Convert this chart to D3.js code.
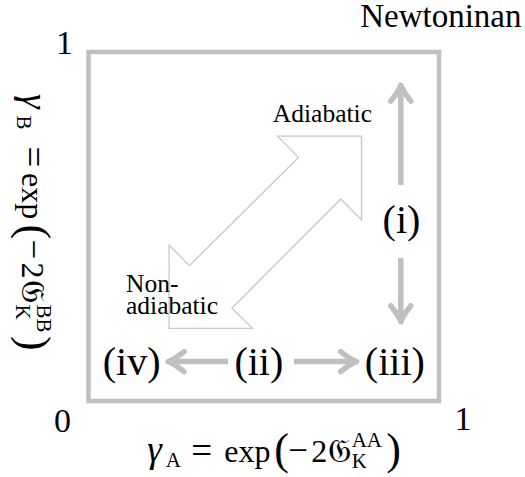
<!DOCTYPE html>
<html><head><meta charset="utf-8">
<script src="https://cdn.jsdelivr.net/npm/d3@7"></script>
<style>html,body{margin:0;padding:0;background:#fff}svg{display:block}</style>
</head><body><svg id="c" width="525" height="477"></svg>
<script>
// ---- data (unit square coordinates) ----
const axisDomain = [0, 1];
const tickLabels = ["0", "1"];
const regimeLabels = ["(i)", "(ii)", "(iii)", "(iv)"];
const regimeX = [0.893, 0.486, 0.874, 0.123];
const regimeY = [0.519, 0.113, 0.113, 0.113];
const arrowFromX = [0.891, 0.891, 0.398, 0.586];
const arrowFromY = [0.619, 0.410, 0.113, 0.113];
const arrowToX   = [0.891, 0.891, 0.227, 0.765];
const arrowToY   = [0.905, 0.227, 0.113, 0.113];
const doubleArrowX = [0.539, 0.779, 0.779, 0.720, 0.409, 0.468, 0.230, 0.230, 0.288, 0.599];
const doubleArrowY = [0.759, 0.759, 0.519, 0.579, 0.266, 0.208, 0.208, 0.447, 0.388, 0.698];
const cornerLabel = "Newtoninan";
const adiabaticLabel = "Adiabatic";
const nonAdiabaticLines = ["Non-", "adiabatic"];
const xAxisParts = ["γ", "A", "=", "exp", "(", "−", "2", "\u{1D50A}", "K", "AA", ")"];
const yAxisParts = ["γ", "B", "=", "exp", "(", "−", "2", "\u{1D50A}", "K", "BB", ")"];

// ---- drawing ----
const SERIF = "Liberation Serif";
const svg = d3.select("#c");
const x = d3.scaleLinear().domain(axisDomain).range([88.5, 439]);
const y = d3.scaleLinear().domain(axisDomain).range([401, 52]);
const GREY = "#c0c0c0";
function txt(parent, size) {
  return parent.append("text").style("font-family", SERIF).style("font-size", size + "px").style("fill", "#000");
}

// box
svg.append("rect")
  .attr("x", x(0)).attr("y", y(1))
  .attr("width", x(1) - x(0)).attr("height", y(0) - y(1))
  .attr("fill", "none").attr("stroke", GREY).attr("stroke-width", 4.5);

// tick labels
txt(svg, 34).attr("text-anchor", "middle").attr("x", x(0) - 24).attr("y", y(1) + 2).text(tickLabels[1]);
txt(svg, 34).attr("text-anchor", "middle").attr("x", x(0) - 26).attr("y", y(0) + 31).text(tickLabels[0]);
txt(svg, 34).attr("text-anchor", "middle").attr("x", x(1) + 24).attr("y", y(0) + 29).text(tickLabels[1]);

// double arrow outline
const pts = doubleArrowX.map((d, i) => [x(d), y(doubleArrowY[i])]);
svg.append("path")
  .attr("d", d3.line()(pts) + "Z")
  .attr("fill", "none").attr("stroke", "#c8c8c8").attr("stroke-width", 1.3)
  .attr("stroke-linejoin", "miter");

// grey arrows
const arrows = arrowFromX.map((d, i) => ({x1: x(d), y1: y(arrowFromY[i]), x2: x(arrowToX[i]), y2: y(arrowToY[i])}));
const ag = svg.append("g").attr("stroke", GREY).attr("fill", "none")
  .attr("stroke-width", 5.5).attr("stroke-linecap", "round").attr("stroke-linejoin", "round");
arrows.forEach(a => {
  const ang = Math.atan2(a.y2 - a.y1, a.x2 - a.x1);
  const ex = a.x2 - 2 * Math.cos(ang), ey = a.y2 - 2 * Math.sin(ang);
  ag.append("line").attr("x1", a.x1).attr("y1", a.y1).attr("x2", ex).attr("y2", ey).attr("stroke-linecap", "butt");
  ag.append("path")
    .attr("d", "M-16,-10 Q-6,-2 0,0 Q-6,2 -16,10")
    .attr("transform", `translate(${a.x2},${a.y2}) rotate(${ang * 180 / Math.PI})`);
});

// regime labels
regimeLabels.forEach((d, i) => {
  txt(svg, 40).attr("text-anchor", "middle")
    .attr("x", x(regimeX[i])).attr("y", y(regimeY[i]) + 13).text(d);
});

// small labels
txt(svg, 25.5).attr("x", x(0.526)).attr("y", y(0.800)).text(adiabaticLabel);
nonAdiabaticLines.forEach((d, i) => {
  txt(svg, 25.5).attr("x", x(0.107)).attr("y", y(0.313) + i * 22.3).text(d);
});

// corner label
txt(svg, 33).attr("x", 521.5).attr("y", 27.3).attr("text-anchor", "end").text(cornerLabel);

// axis labels (math typeset piecewise)
const partSize  = [37, 21, 37, 32, 44, 35, 32, 33, 21, 21, 44];
const partShift = [0, 5, 1, 0, 2, 0, 0, 0, 6, -15, 2];
function mathLabel(g, parts, offsets) {
  parts.forEach((p, i) => {
    const t = txt(g, partSize[i]).attr("x", offsets[i]).attr("y", partShift[i]).text(p);
    if (i === 0) t.style("font-style", "italic");
  });
}
const xl = svg.append("g").attr("transform", "translate(148.3,462)");
mathLabel(xl, xAxisParts, [-1, 17.5, 43, 76, 126, 140, 163, 180, 203.4, 203.4, 238]);
const yl = svg.append("g").attr("transform", "translate(22,95) rotate(90)");
mathLabel(yl, yAxisParts, [-1, 20.5, 51.5, 78, 129.5, 144.5, 167.5, 185, 209.5, 209.5, 241]);
</script></body></html>
